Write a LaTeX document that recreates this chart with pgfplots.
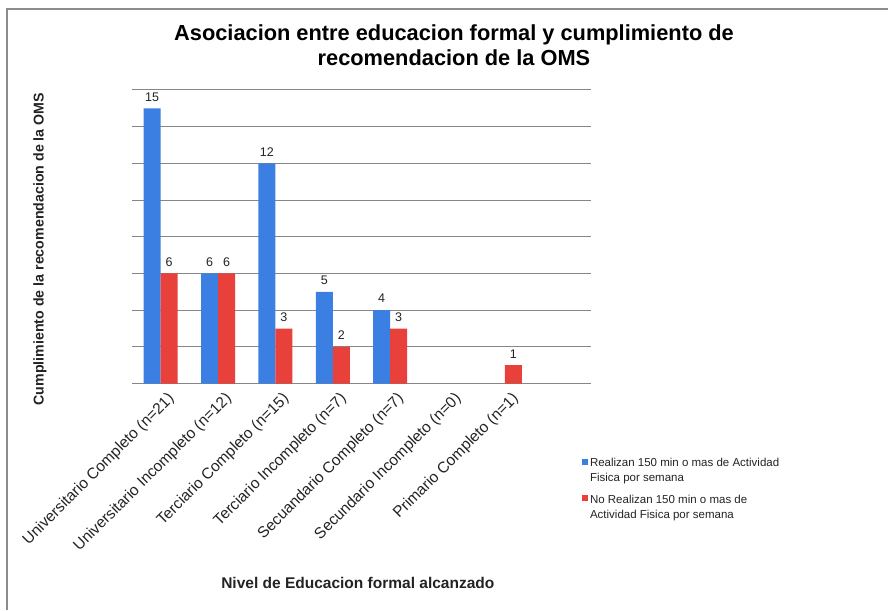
\documentclass[border=0pt]{standalone}
\usepackage{fontspec}
\setmainfont{Liberation Sans}
\usepackage{pgfplots}
\pgfplotsset{compat=1.18}
\definecolor{barblue}{RGB}{60,127,226}
\definecolor{barred}{RGB}{232,64,58}
\definecolor{gridgray}{RGB}{134,134,134}
\definecolor{framegray}{RGB}{140,140,140}
\definecolor{txt}{RGB}{35,35,35}

\begin{document}
\begin{tikzpicture}[x=1pt,y=1pt]
\useasboundingbox (0,0) rectangle (888,610);
% chart area frame
\draw[framegray, line width=1.5pt] (7,0) -- (7,601) -- (888,601);
\begin{axis}[
  at={(132pt,226.4pt)}, anchor=south west,
  scale only axis, width=459pt, height=293.6pt,
  xmin=-0.5, xmax=7.5, ymin=0, ymax=16,
  ybar, bar width=17pt,
  ytick={0,2,...,16}, yticklabels={},
  ymajorgrids, major grid style={gridgray, line width=1pt},
  major tick length=0pt,
  axis line style={draw=none},
  xtick={0,...,6},
  xticklabels={{Universitario Completo (n=21)},{Universitario Incompleto (n=12)},{Terciario Completo (n=15)},{Terciario Incompleto (n=7)},{Secuandario Completo (n=7)},{Secundario Incompleto (n=0)},{Primario Completo (n=1)}},
  x tick label style={xshift=6pt, rotate=45, anchor=north east, font=\fontsize{15.5}{17}\selectfont, text=txt, inner sep=1pt},
  xticklabel shift=6pt,
  /pgf/number format/assume math mode=true,
  nodes near coords,
  nodes near coords style={font=\fontsize{12.5}{14}\selectfont, text=txt, anchor=south, inner sep=2pt, yshift=5pt},
  title={Asociacion entre educacion formal y cumplimiento de\\recomendacion de la OMS},
  title style={at={(axis description cs:0.7015,1.1329)}, anchor=center, align=center, font=\bfseries\fontsize{21.8}{25}\selectfont},
  ylabel={Cumplimiento de la recomendacion de la OMS},
  ylabel style={at={(axis description cs:-0.2004,0.458)}, anchor=center, font=\bfseries\fontsize{14.2}{16}\selectfont, text=txt},
  xlabel={Nivel de Educacion formal alcanzado},
  xlabel style={at={(axis description cs:0.492,-0.68)}, anchor=center, font=\bfseries\fontsize{15.5}{17}\selectfont, text=txt},
  legend style={at={(axis description cs:0.9735,-0.2396)}, anchor=north west, draw=none, fill=none,
    font=\fontsize{11.5}{15}\selectfont, text=txt, row sep=8pt, cells={align=left}},
  legend cell align=left,
  legend image code/.code={\fill[#1] (0pt,6pt) rectangle (6pt,12pt);},
]
\addplot[fill=barblue, draw=none, bar shift=-8.5pt] coordinates {(0,15) (1,6) (2,12) (3,5) (4,4)};
\addplot[fill=barred, draw=none, bar shift=8.5pt] coordinates {(0,6) (1,6) (2,3) (3,2) (4,3) (6,1)};
\legend{{Realizan 150 min o mas de Actividad\\Fisica por semana},{No Realizan 150 min o mas de\\Actividad Fisica por semana}}
\end{axis}
\end{tikzpicture}
\end{document}
